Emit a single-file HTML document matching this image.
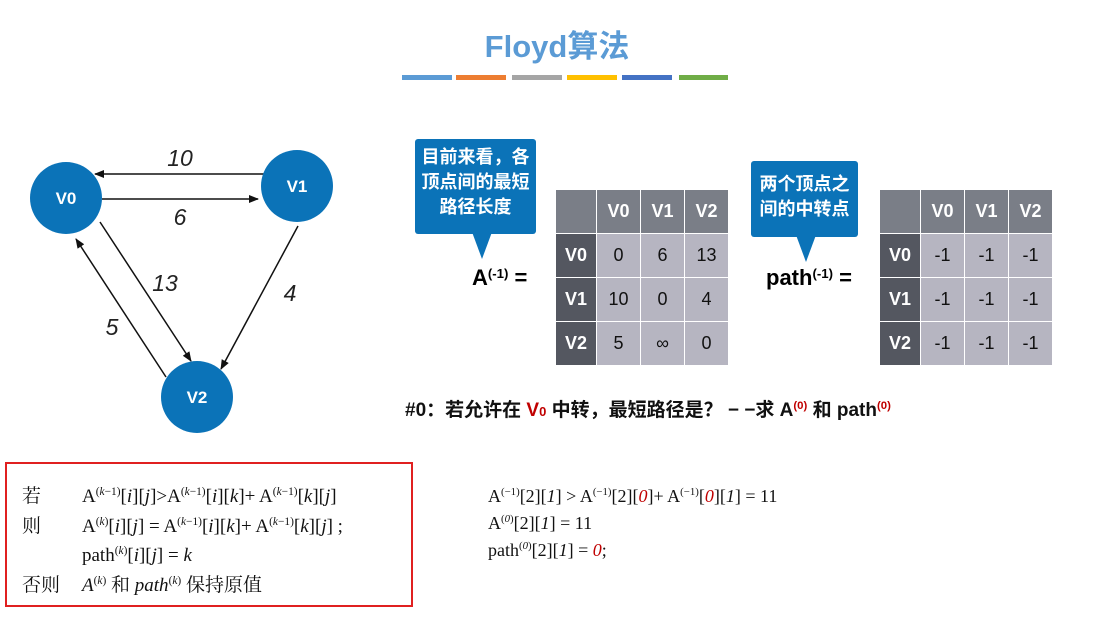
<!DOCTYPE html><html><head><meta charset="utf-8"><style>
body{margin:0;width:1114px;height:628px;background:#fff;position:relative;overflow:hidden;font-family:"Liberation Sans","Noto Sans CJK SC",sans-serif}
.a{position:absolute;white-space:nowrap}
.t{position:absolute;border-collapse:collapse}
.t td{border:1.5px solid #fff;width:43px;height:43px;text-align:center;font-size:18px;padding:0;background:#b6b5c1;color:#111}
.t tr:first-child td{background:#7a7e87;color:#fff;font-weight:bold}
.t td.h{background:#545760;color:#fff;font-weight:bold;width:40px}
.t tr:first-child td.h{background:#7a7e87}
.call{position:absolute;background:#0b73b8;color:#fff;font-size:18px;font-weight:bold;line-height:25px;text-align:center;border-radius:3px}
.serif{font-family:"Liberation Serif","Noto Serif CJK SC",serif;color:#111;line-height:22px}
sup{font-size:60%;vertical-align:7px;line-height:0}
.r{color:#c00000}
</style></head><body>
<div class="a" style="left:0;width:1114px;top:21px;text-align:center;font-size:31px;font-weight:bold;color:#5b9bd5">Floyd算法</div>
<div class="a" style="left:402px;top:75px;width:50px;height:5px;background:#5b9bd5"></div>
<div class="a" style="left:456px;top:75px;width:50px;height:5px;background:#ed7d31"></div>
<div class="a" style="left:512px;top:75px;width:50px;height:5px;background:#a5a5a5"></div>
<div class="a" style="left:567px;top:75px;width:50px;height:5px;background:#ffc000"></div>
<div class="a" style="left:622px;top:75px;width:50px;height:5px;background:#4472c4"></div>
<div class="a" style="left:679px;top:75px;width:49px;height:5px;background:#70ad47"></div>
<svg class="a" style="left:0;top:0" width="400" height="450">
<defs><marker id="m" markerWidth="10" markerHeight="8" refX="9" refY="4" orient="auto" markerUnits="userSpaceOnUse"><path d="M0,0L10,4L0,8z" fill="#111"/></marker></defs>
<g stroke="#111" stroke-width="1.5" marker-end="url(#m)">
<line x1="268" y1="174" x2="95" y2="174"/>
<line x1="102" y1="199" x2="258" y2="199"/>
<line x1="100" y1="222" x2="191" y2="361"/>
<line x1="166" y1="377" x2="76" y2="239"/>
<line x1="298" y1="226" x2="221" y2="369"/>
</g>
<g fill="#0b73b8"><circle cx="66" cy="198" r="36"/><circle cx="297" cy="186" r="36"/><circle cx="197" cy="397" r="36"/></g>
<g fill="#fff" font-size="17" font-weight="bold" text-anchor="middle" font-family="Liberation Sans"><text x="66" y="204">V0</text><text x="297" y="192">V1</text><text x="197" y="403">V2</text></g>
<g fill="#222" font-size="23" font-style="italic" text-anchor="middle" font-family="Liberation Sans"><text x="180" y="166">10</text><text x="180" y="225">6</text><text x="165" y="291">13</text><text x="112" y="335">5</text><text x="290" y="301">4</text></g>
</svg>
<div class="call" style="left:415px;top:139px;width:121px;height:95px;padding-top:6px;box-sizing:border-box">目前来看，各<br>顶点间的最短<br>路径长度</div>
<svg class="a" style="left:470px;top:232px" width="24" height="28"><path d="M2,0L22,0L12,27z" fill="#0b73b8"/></svg>
<div class="call" style="left:751px;top:161px;width:107px;height:76px;padding-top:11px;box-sizing:border-box">两个顶点之<br>间的中转点</div>
<svg class="a" style="left:794px;top:235px" width="24" height="28"><path d="M2,0L22,0L12,27z" fill="#0b73b8"/></svg>
<div class="a" style="left:472px;top:265px;font-size:22px;font-weight:bold">A<sup>(-1)</sup> =</div>
<div class="a" style="left:766px;top:265px;font-size:22px;font-weight:bold">path<sup>(-1)</sup> =</div>
<table class="t" style="left:555px;top:189px"><tr><td class="h"></td><td>V0</td><td>V1</td><td>V2</td></tr>
<tr><td class="h">V0</td><td>0</td><td>6</td><td>13</td></tr>
<tr><td class="h">V1</td><td>10</td><td>0</td><td>4</td></tr>
<tr><td class="h">V2</td><td>5</td><td>∞</td><td>0</td></tr></table>
<table class="t" style="left:879px;top:189px"><tr><td class="h"></td><td>V0</td><td>V1</td><td>V2</td></tr>
<tr><td class="h">V0</td><td>-1</td><td>-1</td><td>-1</td></tr>
<tr><td class="h">V1</td><td>-1</td><td>-1</td><td>-1</td></tr>
<tr><td class="h">V2</td><td>-1</td><td>-1</td><td>-1</td></tr></table>
<div class="a" style="left:405px;top:395px;font-size:19px;font-weight:bold;color:#111">#0：若允许在 <span class="r">V<span style="font-size:13px">0</span></span> 中转，最短路径是？ − −求 A<sup class="r">(0)</sup> 和 path<sup class="r">(0)</sup></div>
<div class="a" style="left:5px;top:462px;width:404px;height:141px;border:2px solid #e02020"></div>
<div class="a serif" style="left:22px;top:486px;font-size:19px">若</div>
<div class="a serif" style="left:22px;top:516px;font-size:19px">则</div>
<div class="a serif" style="left:22px;top:575px;font-size:19px">否则</div>
<div class="a serif" style="left:82px;top:486px;font-size:19px">A<sup>(<i>k</i>−1)</sup>[<i>i</i>][<i>j</i>]&gt;A<sup>(<i>k</i>−1)</sup>[<i>i</i>][<i>k</i>]+ A<sup>(<i>k</i>−1)</sup>[<i>k</i>][<i>j</i>]</div>
<div class="a serif" style="left:82px;top:516px;font-size:19px">A<sup>(<i>k</i>)</sup>[<i>i</i>][<i>j</i>] = A<sup>(<i>k</i>−1)</sup>[<i>i</i>][<i>k</i>]+ A<sup>(<i>k</i>−1)</sup>[<i>k</i>][<i>j</i>] ;</div>
<div class="a serif" style="left:82px;top:545px;font-size:19px">path<sup>(<i>k</i>)</sup>[<i>i</i>][<i>j</i>] = <i>k</i></div>
<div class="a serif" style="left:82px;top:575px;font-size:19px"><i>A</i><sup>(<i>k</i>)</sup> 和 <i>path</i><sup>(<i>k</i>)</sup> 保持原值</div>
<div class="a serif" style="left:488px;top:485px;font-size:18px">A<sup>(−1)</sup>[2][<i>1</i>] &gt; A<sup>(−1)</sup>[2][<i class="r">0</i>]+ A<sup>(−1)</sup>[<i class="r">0</i>][<i>1</i>] = 11</div>
<div class="a serif" style="left:488px;top:512px;font-size:18px">A<sup>(<i>0</i>)</sup>[2][<i>1</i>] = 11</div>
<div class="a serif" style="left:488px;top:539px;font-size:18px">path<sup>(<i>0</i>)</sup>[2][<i>1</i>] = <i class="r">0</i>;</div>
</body></html>
